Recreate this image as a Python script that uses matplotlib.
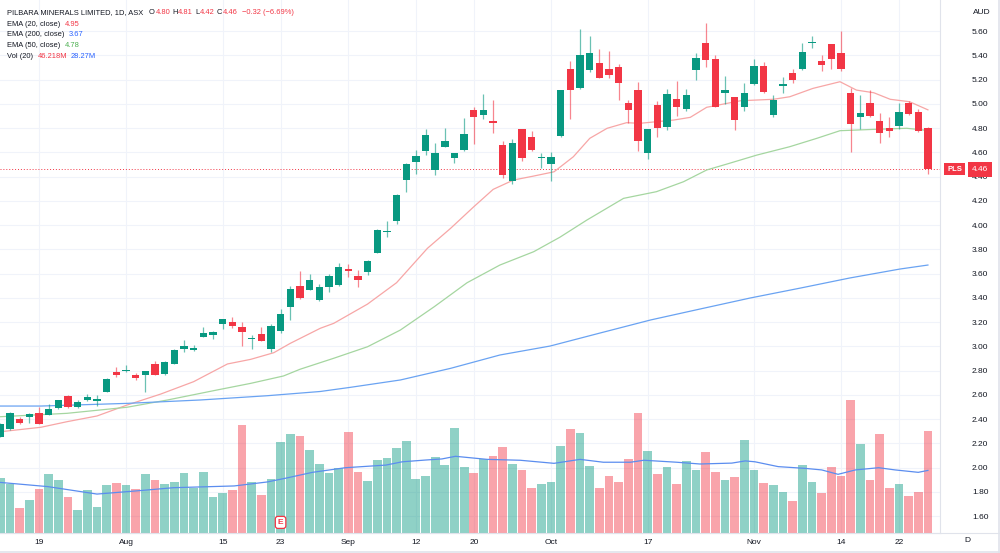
import matplotlib
matplotlib.use('Agg')
import matplotlib.pyplot as plt
from matplotlib.transforms import blended_transform_factory
from matplotlib.lines import Line2D
import numpy as np

plt.rcParams['font.family'] = ['Liberation Sans', 'DejaVu Sans']

# daily candles, 13 Jul 2022 .. 25 Nov 2022 (ASX trading days, index 0..96)
opens = [2.25, 2.32, 2.40, 2.42, 2.45, 2.43, 2.49, 2.59, 2.50, 2.56,
         2.55, 2.62, 2.79, 2.795, 2.765, 2.76, 2.85, 2.77, 2.85, 2.98,
         2.97, 3.08, 3.09, 3.18, 3.20, 3.155, 3.06, 3.10, 2.98, 3.13,
         3.32, 3.50, 3.465, 3.38, 3.49, 3.505, 3.64, 3.58, 3.615, 3.77,
         3.94, 4.035, 4.37, 4.52, 4.61, 4.45, 4.645, 4.55, 4.62, 4.945,
         4.91, 4.86, 4.66, 4.36, 4.79, 4.73, 4.55, 4.50, 4.735, 5.29,
         5.13, 5.28, 5.34, 5.285, 5.30, 5.005, 5.11, 4.59, 4.99, 4.805,
         5.04, 4.955, 5.28, 5.50, 5.37, 5.09, 5.055, 4.975, 5.16, 5.31,
         4.91, 5.15, 5.25, 5.285, 5.50, 5.35, 5.49, 5.42, 5.09, 4.89,
         5.005, 4.86, 4.80, 4.815, 5.005, 4.93, 4.80]
highs = [2.37, 2.46, 2.42, 2.45, 2.50, 2.52, 2.56, 2.60, 2.56, 2.61,
         2.60, 2.74, 2.83, 2.845, 2.78, 2.80, 2.88, 2.88, 2.98, 3.05,
         3.01, 3.155, 3.13, 3.225, 3.245, 3.20, 3.09, 3.155, 3.18, 3.31,
         3.50, 3.62, 3.60, 3.51, 3.60, 3.69, 3.68, 3.63, 3.715, 3.97,
         4.03, 4.255, 4.51, 4.62, 4.79, 4.675, 4.80, 4.59, 4.885, 4.97,
         5.08, 5.03, 4.69, 4.71, 4.79, 4.775, 4.59, 4.60, 5.115, 5.355,
         5.62, 5.56, 5.45, 5.435, 5.325, 5.03, 5.18, 4.79, 5.025, 5.12,
         5.19, 5.12, 5.415, 5.67, 5.40, 5.23, 5.06, 5.17, 5.37, 5.345,
         5.075, 5.22, 5.29, 5.50, 5.555, 5.405, 5.495, 5.60, 5.13, 5.07,
         5.11, 4.92, 4.89, 5.01, 5.02, 4.955, 4.81]
lows = [2.25, 2.31, 2.36, 2.37, 2.36, 2.43, 2.48, 2.49, 2.49, 2.55,
        2.51, 2.62, 2.745, 2.785, 2.72, 2.62, 2.76, 2.76, 2.85, 2.95,
        2.96, 3.075, 3.06, 3.14, 3.15, 3.00, 2.975, 3.04, 2.95, 3.11,
        3.22, 3.39, 3.46, 3.37, 3.45, 3.50, 3.575, 3.49, 3.59, 3.77,
        3.905, 4.01, 4.275, 4.42, 4.58, 4.41, 4.64, 4.51, 4.61, 4.67,
        4.875, 4.755, 4.385, 4.34, 4.53, 4.61, 4.47, 4.365, 4.73, 4.875,
        5.12, 5.265, 5.21, 5.21, 5.03, 4.84, 4.61, 4.545, 4.73, 4.78,
        4.90, 4.94, 5.20, 5.305, 4.97, 5.00, 4.785, 4.94, 5.155, 5.085,
        4.89, 5.09, 5.17, 5.28, 5.46, 5.27, 5.29, 5.27, 4.605, 4.79,
        4.89, 4.68, 4.73, 4.79, 4.905, 4.77, 4.42]
closes = [2.36, 2.45, 2.37, 2.44, 2.36, 2.48, 2.56, 2.50, 2.54, 2.58,
          2.565, 2.73, 2.76, 2.805, 2.735, 2.80, 2.76, 2.87, 2.97, 3.00,
          2.985, 3.11, 3.12, 3.225, 3.165, 3.115, 3.065, 3.045, 3.17, 3.265,
          3.47, 3.40, 3.545, 3.49, 3.58, 3.65, 3.62, 3.545, 3.70, 3.96,
          3.95, 4.25, 4.50, 4.57, 4.74, 4.59, 4.69, 4.59, 4.75, 4.89,
          4.945, 4.845, 4.41, 4.68, 4.55, 4.62, 4.56, 4.56, 5.11, 5.11,
          5.40, 5.42, 5.21, 5.235, 5.17, 4.945, 4.69, 4.79, 4.80, 5.08,
          4.97, 5.07, 5.38, 5.36, 4.975, 5.11, 4.865, 5.09, 5.31, 5.10,
          5.03, 5.16, 5.195, 5.43, 5.505, 5.32, 5.37, 5.285, 4.83, 4.92,
          4.90, 4.76, 4.775, 4.93, 4.915, 4.775, 4.46]
# volume in millions
volumes = [24.8, 22.1, 11.3, 14.7, 19.8, 26.5, 23.8, 16.2, 10.1, 19.5,
           11.6, 21.6, 22.5, 21.6, 19.8, 26.8, 24.0, 22.2, 22.9, 27.1,
           20.4, 27.4, 16.3, 18.0, 19.5, 48.9, 22.9, 17.1, 24.4, 41.3,
           44.7, 43.8, 37.4, 31.1, 27.1, 29.5, 45.6, 27.7, 23.4, 33.1,
           34.1, 38.6, 41.7, 24.4, 25.9, 34.4, 30.7, 47.4, 29.8, 27.1,
           33.5, 35.0, 38.9, 31.3, 28.6, 20.4, 21.9, 23.1, 39.5, 47.1,
           45.3, 30.1, 20.4, 25.9, 22.9, 33.5, 54.4, 37.1, 26.5, 29.8,
           21.9, 32.6, 28.3, 36.8, 27.4, 24.0, 25.3, 42.0, 28.3, 22.5,
           21.6, 18.3, 14.3, 30.7, 23.1, 18.0, 29.8, 25.9, 60.5, 40.2,
           24.0, 44.7, 20.1, 21.9, 16.5, 18.3, 46.218]

# indicator lines (x = candle index)
ema20_x = [0, 4.2, 6.9, 10, 13.1, 16.6, 20, 23.5, 25.9, 28.3, 30, 33.1, 34.5, 38, 41,
           44.2, 46.6, 49, 51, 53.1, 55.2, 57.3, 59.3, 61, 62.8, 64.8, 66.2, 69.7,
           71.4, 73.1, 76.6, 80, 81.7, 84.1, 86.9, 88.6, 90.4, 92.1, 94.1, 96]
ema20_v = [2.295, 2.332, 2.378, 2.425, 2.515, 2.606, 2.708, 2.854, 2.892, 2.947, 3.024,
           3.148, 3.189, 3.348, 3.524, 3.808, 3.973, 4.151, 4.294, 4.371, 4.404, 4.439,
           4.563, 4.715, 4.798, 4.844, 4.839, 4.866, 4.888, 4.971, 5.025, 5.037, 5.058,
           5.127, 5.182, 5.113, 5.091, 5.037, 5.017, 4.95]
ema50_x = [0, 6.9, 13.1, 17.3, 22.4, 25.9, 29.3, 31, 34.5, 38, 41.4, 44.9, 48.3, 51.7,
           55.2, 57.9, 60.7, 64.5, 67.9, 70.7, 73.1, 75.2, 78.3, 81.7, 84.5, 86.9,
           90.4, 93.8, 96]
ema50_v = [2.419, 2.447, 2.497, 2.557, 2.639, 2.694, 2.755, 2.81, 2.901, 2.996, 3.134,
           3.326, 3.524, 3.67, 3.78, 3.899, 4.041, 4.22, 4.275, 4.357, 4.454, 4.503,
           4.577, 4.646, 4.715, 4.778, 4.789, 4.798, 4.78]
ema200_x = [0, 4.2, 13.1, 20.7, 27.6, 33.1, 36.2, 41.4, 46.6, 51.7, 56.9, 62.1, 67.3,
            72.4, 77.6, 82.8, 87.9, 93.1, 96]
ema200_v = [2.507, 2.507, 2.529, 2.557, 2.592, 2.627, 2.661, 2.722, 2.818, 2.928, 3.002,
            3.11, 3.217, 3.307, 3.398, 3.48, 3.563, 3.637, 3.67]
volma_x = [0, 4.9, 10, 14.5, 17.9, 24.2, 27.6, 29.5, 32.3, 35.7, 39.9, 41.6, 44, 45.7,
           47.1, 49.2, 50.4, 53.8, 57.3, 60, 62.4, 65.2, 66.6, 70, 72.4, 75.7, 77.1,
           78.1, 80.5, 83.3, 85, 86.7, 88.5, 90.9, 92.6, 95, 96]
volma_v = [22.8, 20.9, 17.5, 19.1, 20.4, 21.2, 23.0, 24.7, 27.4, 29.5, 30.7, 32.2, 33.0,
           33.5, 34.7, 33.8, 33.3, 32.9, 31.5, 33.3, 32.0, 32.0, 32.9, 32.0, 31.2, 31.6,
           32.6, 32.2, 30.0, 29.2, 28.5, 26.5, 28.5, 29.5, 28.5, 27.4, 28.27]

tick_pos = [4, 13, 23, 29, 36, 43, 49, 57, 67, 78, 87, 93]
tick_labels = ['19', 'Aug', '15', '23', 'Sep', '12', '20', 'Oct', '17', 'Nov', '14', '22']
price_ticks = [1.6, 1.8, 2.0, 2.2, 2.4, 2.6, 2.8, 3.0, 3.2, 3.4, 3.6, 3.8,
               4.0, 4.2, 4.4, 4.6, 4.8, 5.0, 5.2, 5.4, 5.6]
earnings_idx = 29
last_price = 4.46

UP = '#089981'
DOWN = '#f23645'
TXT = '#131722'
GRID = '#f0f3fa'
BORDER = '#e0e3eb'
BLUE = '#2962ff'
GREEN = '#4caf50'

W, H = 1000, 553
fig = plt.figure(figsize=(W / 100, H / 100), dpi=100)
rect = [0, (H - 532.5) / H, 940 / W, 532.5 / H]
ax = fig.add_axes(rect)
axv = fig.add_axes(rect)
axv.patch.set_visible(False)
axv.axis('off')

n = len(closes)
idx = np.arange(n)
o = np.array(opens)
c = np.array(closes)
colors = [UP if c[i] >= o[i] else DOWN for i in range(n)]

# volume pane (overlay at the bottom)
axv.bar(idx, volumes, width=0.9, color=colors, alpha=0.45, linewidth=0)
axv.plot(volma_x, volma_v, color='#5b8def', lw=0.9)
axv.set_ylim(0, 242.5)
axv.text(earnings_idx, 4.6, 'E', ha='center', va='center', fontsize=6, color=DOWN,
         fontweight='bold',
         bbox=dict(boxstyle='round,pad=0.3', fc='white', ec=DOWN, lw=0.9), zorder=10)

# candles
ax.vlines(idx, lows, highs, colors=colors, lw=0.9, alpha=0.6, zorder=3)
body_lo = np.minimum(o, c)
body_h = np.maximum(np.abs(c - o), 0.007)
ax.bar(idx, body_h, bottom=body_lo, width=0.76, color=colors, linewidth=0, zorder=4)

ax.plot(ema20_x, ema20_v, color='#f7a6a6', lw=0.9, zorder=2)
ax.plot(ema50_x, ema50_v, color='#a5d6a0', lw=0.9, zorder=2)
ax.plot(ema200_x, ema200_v, color='#6aa3f2', lw=0.9, zorder=2)

ax.axhline(last_price, color=DOWN, lw=0.7, ls=(0, (1, 2)), zorder=1)

ax.set_xlim(-0.04, 97.25)
ax.set_ylim(1.464, 5.856)
axv.set_xlim(-0.04, 97.25)

ax.set_yticks(price_ticks)
ax.set_yticklabels(['%.2f' % t for t in price_ticks])
ax.yaxis.tick_right()
ax.set_xticks(tick_pos)
ax.set_xticklabels(tick_labels)
ax.tick_params(axis='y', length=0, pad=23, labelsize=6, labelcolor=TXT)
ax.tick_params(axis='x', length=0, pad=4.5, labelsize=6, labelcolor=TXT)
ax.grid(True, color=GRID, lw=0.8, zorder=0)
ax.set_axisbelow(True)
for s in ['top', 'left']:
    ax.spines[s].set_visible(False)
for s in ['right', 'bottom']:
    ax.spines[s].set_color(BORDER)
    ax.spines[s].set_linewidth(0.8)

# last price labels on the price scale
tr = blended_transform_factory(ax.transAxes, ax.transData)
ax.text(954.5 / 940, last_price, 'PLS', transform=tr, ha='center', va='center',
        fontsize=5.5, color='white', fontweight='bold', clip_on=False, zorder=10,
        bbox=dict(boxstyle='square,pad=0.35', fc=DOWN, ec='none'))
ax.text(980 / 940, last_price, '%.2f' % last_price, transform=tr, ha='center',
        va='center', fontsize=6, color='white', clip_on=False, zorder=10,
        bbox=dict(boxstyle='square,pad=0.45', fc=DOWN, ec='none'))


def ftext(x, y, s, color=TXT, size=5.4):
    return fig.text(x / W, 1 - y / H, s, color=color, fontsize=size, ha='left', va='center')


def chain(prev, s, gap, color=TXT, size=5.4):
    # place a text piece right after the previous one
    return ax.annotate(s, xy=(1, 0.5), xycoords=prev, xytext=(gap, 0),
                       textcoords='offset points', ha='left', va='center',
                       color=color, fontsize=size)


ftext(973, 12, 'AUD', size=6)
ftext(964, 541, 'D', size=6)

# legend block
t = ftext(7.3, 12.7, 'PILBARA MINERALS LIMITED, 1D, ASX')
pieces = [('O', TXT, 4.0), ('4.80', DOWN, 0.3), ('H', TXT, 1.6), ('4.81', DOWN, 0.3),
          ('L', TXT, 1.6), ('4.42', DOWN, 0.3), ('C', TXT, 1.6), ('4.46', DOWN, 0.3),
          ('\u22120.32 (\u22126.69%)', DOWN, 3.0)]
for s, col, gap in pieces:
    t = chain(t, s, gap, color=col)

rows = [(24.3, 'EMA (20, close)', [('4.95', DOWN)]),
        (35, 'EMA (200, close)', [('3.67', BLUE)]),
        (45.7, 'EMA (50, close)', [('4.78', GREEN)]),
        (56.7, 'Vol (20)', [('46.218M', DOWN), ('28.27M', BLUE)])]
for y, label, vals in rows:
    t = ftext(7.3, y, label)
    for s, col in vals:
        t = chain(t, s, 3.0, color=col)

# time scale separator and outer frame
fig.add_artist(Line2D([0, 1], [1 - 533 / H, 1 - 533 / H], color=BORDER, lw=0.8))
fig.add_artist(Line2D([0.999, 0.999], [0, 1], color=BORDER, lw=1.2))
fig.add_artist(Line2D([0, 1], [0.002, 0.002], color=BORDER, lw=1.2))

fig.savefig('out.png', dpi=100, facecolor='white')
